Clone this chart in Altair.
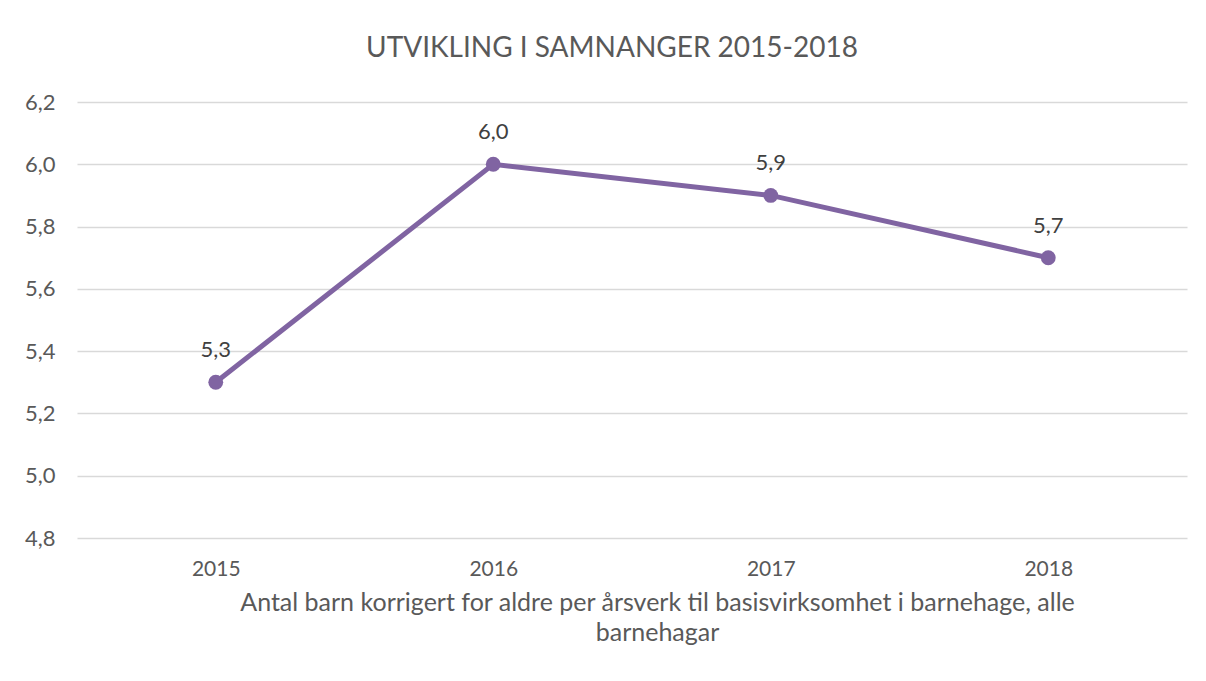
import altair as alt
import pandas as pd

years = ["2015", "2016", "2017", "2018"]
values = [5.3, 6.0, 5.9, 5.7]
y_ticks = [4.8, 5.0, 5.2, 5.4, 5.6, 5.8, 6.0, 6.2]
title_text = "UTVIKLING I SAMNANGER 2015-2018"
x_title = ["Antal barn korrigert for aldre per årsverk til basisvirksomhet i barnehage, alle", "barnehagar"]

df = pd.DataFrame({"year": years, "value": values})

FONT = "Lato"
PURPLE = "#8064A2"

x_enc = alt.X("year:O", sort=years,
              axis=alt.Axis(title=x_title, labelAngle=0, ticks=False, domain=False,
                            labelPadding=20, labelFontSize=21, labelColor="#595959",
                            labelFont=FONT, titleFont=FONT, titleFontSize=25,
                            titleFontWeight="normal", titleColor="#595959",
                            titleX=580, titleY=52, titleAlign="center",
                            titleBaseline="top", titleLineHeight=30))
y_enc = alt.Y("value:Q",
              scale=alt.Scale(domain=[4.8, 6.2], nice=False, zero=False),
              axis=alt.Axis(title=None, values=y_ticks, ticks=False, domain=False,
                            labelExpr="replace(format(datum.value, '.1f'), '.', ',')",
                            labelPadding=22, labelFontSize=22, labelColor="#595959",
                            labelFont=FONT, gridColor="#d9d9d9", gridWidth=1.3))

base = alt.Chart(df).encode(x=x_enc, y=y_enc)

line = base.mark_line(color=PURPLE, strokeWidth=5)
points = base.mark_point(filled=True, color=PURPLE, size=220, opacity=1)
labels = base.transform_calculate(
    lab="replace(format(datum.value, '.1f'), '.', ',')"
).mark_text(dy=-32, fontSize=22, font=FONT, color="#404040").encode(text="lab:N")

chart = (line + points + labels).properties(
    width=1110, height=436,
    title=alt.TitleParams(title_text, font=FONT, fontSize=28, fontWeight="normal",
                          color="#595959", anchor="middle", dx=-20, offset=28),
    autosize=alt.AutoSizeParams(type="none"),
    padding={"left": 69, "top": 94, "right": 11, "bottom": 135},
).configure(background="white").configure_view(strokeWidth=0, stroke="transparent")

chart.save("out.html", embed_options={"renderer": "svg", "actions": False})
